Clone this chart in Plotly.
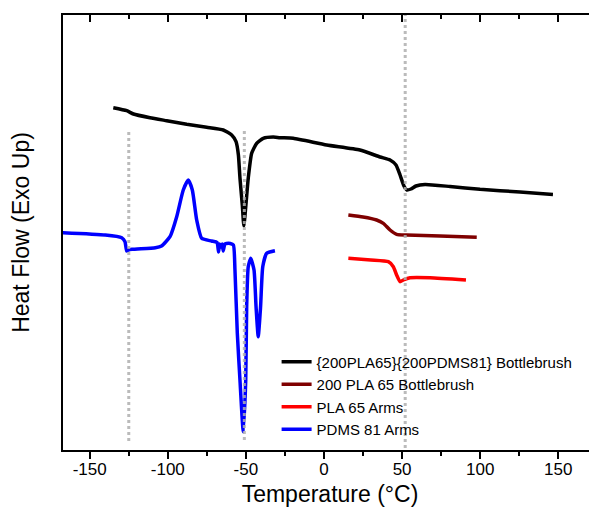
import plotly.graph_objects as go

# ---- data (temperature in °C, heat flow in arbitrary units, exo up) ----
bb_T = [-134.9, -126.3, -122, -111.4, -100.7, -87.9, -75.1, -64.5, -59.1, -56.3, -54.8, -53.8,
        -52.3, -51.3, -50.0, -48.5, -46.3, -43.1, -38.9, -32.5, -28.2, -19.7, 1.7, 23, 35.9,
        42.3, 46.1, 48.7, 51.2, 53.1, 55.7, 58.9, 64.7, 80.7, 99.9, 125.5, 146.6]
bb_Q = [34.23, 33.93, 33.6, 33.23, 32.93, 32.57, 32.27, 32.0, 31.5, 30.83, 29.5, 27.2,
        24.5, 22.4, 24.5, 27.17, 29.67, 30.67, 31.17, 31.3, 31.23, 31.17, 30.5, 30.0, 29.3,
        29.0, 28.5, 27.5, 26.4, 26.0, 26.1, 26.4, 26.55, 26.35, 26.07, 25.8, 25.55]

plabb_T = [15.6, 25, 33.7, 38, 42.3, 46.5, 52.9, 74.3, 97.8]
plabb_Q = [23.5, 23.3, 23.0, 22.67, 22.0, 21.57, 21.5, 21.4, 21.27]

pla_T = [15.6, 30, 41.2, 44.4, 46.5, 48.7, 50.8, 55.1, 67.9, 90.9]
pla_Q = [19.17, 19.0, 18.83, 18.33, 17.5, 16.83, 17.0, 17.23, 17.23, 17.0]

pdms_T = [-170, -140, -129.5, -127.4, -126.3, -125.3, -123, -108, -104, -98.6, -94.3, -90.1,
          -86.9, -84.3, -81.5, -78.3, -72, -68.5, -67.5, -66.8, -66, -65.2, -64.5, -63.5,
          -62.5, -60, -58, -57, -55.5, -53.8, -51.7, -50.1, -49.5, -48.5, -46.9, -44.8,
          -43.5, -42.1, -40.6, -39.2, -36.7, -31.4]
pdms_Q = [21.75, 21.5, 21.23, 20.83, 19.9, 20.0, 20.07, 20.23, 20.4, 21.33, 23.33, 26.0,
          27.0, 26.0, 23.0, 21.17, 20.9, 20.75, 19.8, 20.6, 20.3, 20.6, 19.9, 20.6,
          20.65, 20.65, 20.5, 18.0, 11.7, 7.0, 1.83, 7.0, 14.33, 18.33, 19.17, 18.0,
          14.33, 11.33, 14.33, 18.33, 19.67, 19.93]

# reference transition temperatures (dotted guides) and their vertical extent
guide_T = [-125, -51, 52]
guide_lo = [0.9, 1.0, 0.2]
guide_hi = [32.0, 32.2, 43.5]

tick_vals = [-150, -100, -50, 0, 50, 100, 150]
tick_text = ["-150", "-100", "-50", "0", "50", "100", "150"]

names = ["{200PLA65}{200PDMS81} Bottlebrush", "200 PLA 65 Bottlebrush", "PLA 65 Arms", "PDMS 81 Arms"]
colors = ["#000000", "#7f0000", "#ff0000", "#0000ff"]

XR = [-167.1, 174.8]
YR = [0, 43.5]

fig = go.Figure()
series = [(bb_T, bb_Q), (plabb_T, plabb_Q), (pla_T, pla_Q), (pdms_T, pdms_Q)]
for (t, q), n, c in zip(series, names, colors):
    fig.add_trace(go.Scatter(x=t, y=q, mode="lines", name=n,
                             line=dict(color=c, width=3.5, shape="spline", smoothing=0.5)))

for t, lo, hi in zip(guide_T, guide_lo, guide_hi):
    fig.add_trace(go.Scatter(x=[t, t], y=[lo, hi], mode="lines", showlegend=False,
                             hoverinfo="skip",
                             line=dict(color="rgba(175,175,175,0.85)", width=3, dash="3px,3px")))

# invisible trace for top axis
fig.add_trace(go.Scatter(x=XR, y=[None, None], xaxis="x2", showlegend=False, hoverinfo="skip"))

font = "Liberation Sans, Arial, sans-serif"
fig.update_layout(
    width=597, height=516,
    margin=dict(l=55, r=8, t=7, b=74),
    plot_bgcolor="white", paper_bgcolor="white",
    font=dict(family=font, color="black"),
    showlegend=True,
    legend=dict(x=0.40, y=0.24, xanchor="left", yanchor="top",
                bgcolor="rgba(0,0,0,0)", font=dict(size=15, family=font),
                itemwidth=30, tracegroupgap=0),
    xaxis=dict(range=XR, showgrid=False, zeroline=False, showline=True, linecolor="black",
               linewidth=2, ticks="outside", ticklen=7, tickwidth=1.5, tickcolor="black",
               tickvals=tick_vals, ticktext=tick_text, tickfont=dict(size=17),
               ticklabelstandoff=-4, automargin=False,
               minor=dict(ticks="outside", ticklen=4, tickwidth=1.5, tickcolor="black",
                          dtick=25, tick0=-175, showgrid=False),
               title=dict(text="Temperature (°C)", font=dict(size=23), standoff=7)),
    xaxis2=dict(range=XR, overlaying="x", side="top", showgrid=False, zeroline=False,
                showline=True, linecolor="black", linewidth=2, ticks="inside", ticklen=7,
                tickwidth=1.5, tickcolor="black", tickvals=tick_vals, showticklabels=False,
                automargin=False,
                minor=dict(ticks="inside", ticklen=4, tickwidth=1.5, tickcolor="black",
                           dtick=25, tick0=-175, showgrid=False)),
    yaxis=dict(range=YR, showgrid=False, zeroline=False, showline=True, linecolor="black",
               linewidth=2, ticks="", showticklabels=False, automargin=False,
               title=dict(text="Heat Flow (Exo Up)", font=dict(size=23), standoff=30)),
)

fig.write_html("out.html")
